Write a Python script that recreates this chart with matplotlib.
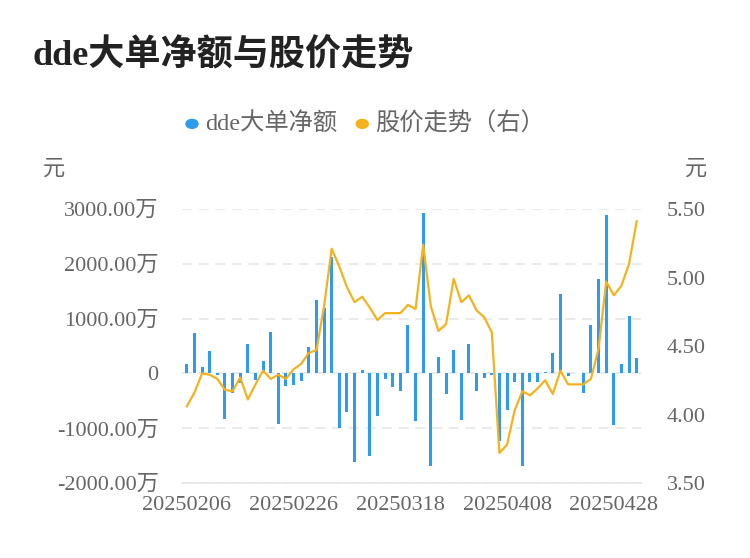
import matplotlib.pyplot as plt
import numpy as np

plt.rcParams['font.family'] = ['Liberation Serif', 'Noto Sans CJK SC']

dates = ['20250206', '20250226', '20250318', '20250408', '20250428']
label_idx = [0, 14, 28, 42, 56]

# dde大单净额 (万)
dde = [180, 740, 115, 405, -30, -840, -350, -170, 545, -120,
       225, 760, -930, -230, -210, -140, 485, 1345, 1195, 2130,
       -1005, -700, -1625, 65, -1500, -775, -100, -240, -330, 890,
       -865, 2920, -1685, 300, -380, 435, -850, 540, -320, -80,
       -20, -1230, -670, -160, -1685, -160, -160, 30, 365, 1450,
       -50, 0, -350, 890, 1720, 2885, -945, 170, 1040, 290]
# 股价 (元)
price = [4.06, 4.16, 4.30, 4.29, 4.26, 4.18, 4.17, 4.27, 4.11, 4.22,
         4.32, 4.26, 4.29, 4.26, 4.33, 4.37, 4.45, 4.47, 4.79, 5.21,
         5.08, 4.93, 4.82, 4.86, 4.78, 4.69, 4.74, 4.74, 4.74, 4.80,
         4.77, 5.24, 4.79, 4.61, 4.66, 4.99, 4.82, 4.87, 4.76, 4.71,
         4.60, 3.72, 3.78, 4.03, 4.17, 4.14, 4.19, 4.25, 4.15, 4.32,
         4.22, 4.22, 4.22, 4.26, 4.48, 4.97, 4.87, 4.94, 5.10, 5.41]

blue = '#2e9bed'
orange = '#f5b21c'
gray = '#666666'

fig = plt.figure(figsize=(7.5, 5.58), dpi=100)
ax = fig.add_axes([0.243, 0.1344, 0.612, 0.491])
x = np.arange(len(dde))
ax.bar(x, dde, width=0.4, color=blue, zorder=3)
ax.set_xlim(-0.6, len(dde) - 0.4)
ax.set_ylim(-2000, 3000)
ax.set_yticks([-2000, -1000, 0, 1000, 2000, 3000])
ax.set_yticklabels(['-2000.00万', '-1000.00万', '0', '1000.00万', '2000.00万', '3000.00万'])
ax.grid(axis='y', color='#e6e6e6', linestyle=(0, (6, 4)), linewidth=1.2, zorder=0)
ax.set_xticks(label_idx)
ax.set_xticklabels(dates)
for s in ['top', 'left', 'right']:
    ax.spines[s].set_visible(False)
ax.spines['bottom'].set_color('#e6e6e6')
ax.spines['bottom'].set_linewidth(1.2)
ax.tick_params(axis='y', length=0, labelsize=16, labelcolor=gray, pad=17)
ax.tick_params(axis='x', length=0, labelsize=16, labelcolor=gray, pad=9)

ax2 = ax.twinx()
ax2.plot(x, price, color=orange, linewidth=1.6, zorder=4)
ax2.set_ylim(3.5, 5.5)
ax2.set_yticks([3.5, 4.0, 4.5, 5.0, 5.5])
ax2.set_yticklabels(['3.50', '4.00', '4.50', '5.00', '5.50'])
for s in ['top', 'left', 'right', 'bottom']:
    ax2.spines[s].set_visible(False)
ax2.tick_params(length=0, labelsize=16, labelcolor=gray, pad=18.5)

fig.text(0.043, 0.9, 'dde大单净额与股价走势', fontsize=26, fontweight='bold', color='#222222', va='center')
fig.text(0.072, 0.695, '元', fontsize=16, color=gray, ha='center', va='center')
fig.text(0.928, 0.695, '元', fontsize=16, color=gray, ha='center', va='center')

fig.patches.append(plt.Circle((0.256, 0.778), 0.008, transform=fig.transFigure, color=blue))
fig.text(0.273, 0.778, 'dde大单净额', fontsize=17.5, color=gray, va='center')
fig.patches.append(plt.Circle((0.483, 0.778), 0.008, transform=fig.transFigure, color=orange))
fig.text(0.5, 0.778, '股价走势（右）', fontsize=17.5, color=gray, va='center')

fig.savefig('out.png')
